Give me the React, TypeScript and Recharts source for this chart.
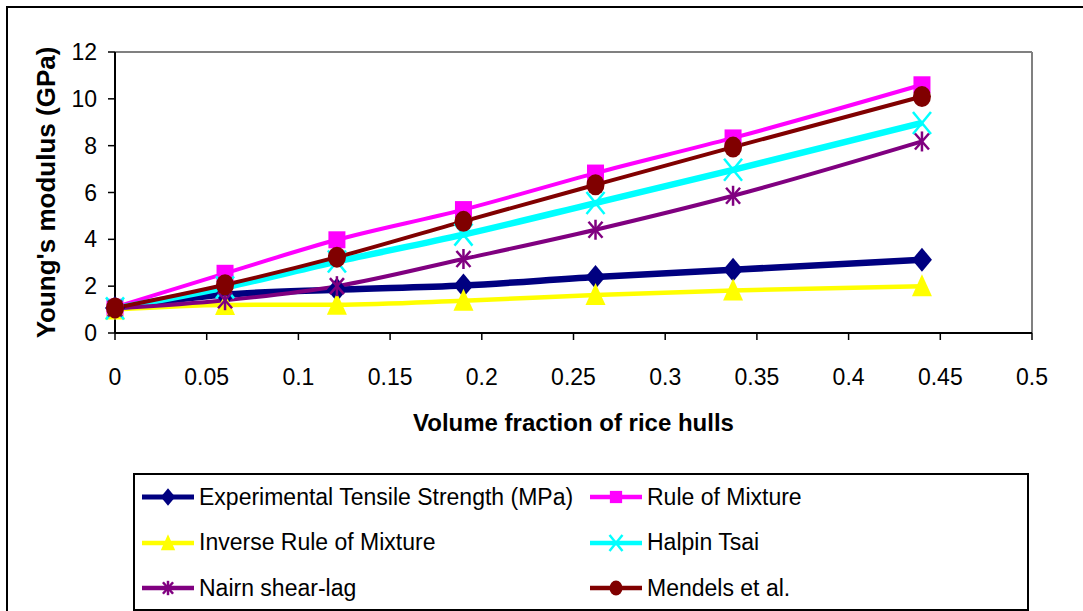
import React from 'react';
import { LineChart, Line, XAxis, YAxis, Legend, ReferenceLine } from 'recharts';

// volume fraction of rice hulls
const volumeFractions = [0, 0.06, 0.121, 0.19, 0.262, 0.337, 0.44];

// Young's modulus (GPa)
const experimental = [1.07, 1.64, 1.85, 2.03, 2.39, 2.7, 3.13];
const ruleOfMixture = [1.1, 2.55, 3.98, 5.27, 6.83, 8.33, 10.6];
const inverseRule = [1.0, 1.2, 1.21, 1.38, 1.62, 1.82, 2.0];
const halpinTsai = [1.05, 1.95, 3.05, 4.2, 5.55, 6.97, 8.97];
const nairnShearLag = [1.05, 1.4, 2.0, 3.16, 4.41, 5.86, 8.18];
const mendels = [1.07, 2.06, 3.24, 4.77, 6.33, 7.94, 10.1];

const xTicks = [0, 0.05, 0.1, 0.15, 0.2, 0.25, 0.3, 0.35, 0.4, 0.45, 0.5];
const yTicks = [0, 2, 4, 6, 8, 10, 12];

const data = volumeFractions.map((x, i) => ({
  x,
  experimental: experimental[i],
  rule: ruleOfMixture[i],
  inverse: inverseRule[i],
  halpin: halpinTsai[i],
  nairn: nairnShearLag[i],
  mendels: mendels[i],
}));

const FONT = '"Liberation Sans", Arial, sans-serif';

type MarkProps = { cx: number; cy: number; s?: number };

const Diamond = ({ cx, cy, s = 1 }: MarkProps) => (
  <polygon
    points={`${cx},${cy - 12 * s} ${cx + 10 * s},${cy} ${cx},${cy + 12 * s} ${cx - 10 * s},${cy}`}
    fill="#000080"
  />
);
const Square = ({ cx, cy, s = 1 }: MarkProps) => (
  <rect x={cx - 8.5 * s} y={cy - 8.5 * s} width={17 * s} height={17 * s} fill="#FF00FF" />
);
const Triangle = ({ cx, cy, s = 1 }: MarkProps) => (
  <polygon
    points={`${cx},${cy - 12 * s} ${cx + 10 * s},${cy + 10 * s} ${cx - 10 * s},${cy + 10 * s}`}
    fill="#FFFF00"
  />
);
const Cross = ({ cx, cy, s = 1 }: MarkProps) => (
  <g stroke="#00FFFF" strokeWidth={2.5}>
    <line x1={cx - 9 * s} y1={cy - 11 * s} x2={cx + 9 * s} y2={cy + 11 * s} />
    <line x1={cx - 9 * s} y1={cy + 11 * s} x2={cx + 9 * s} y2={cy - 11 * s} />
  </g>
);
const Asterisk = ({ cx, cy, s = 1 }: MarkProps) => (
  <g stroke="#800080" strokeWidth={2.5}>
    <line x1={cx - 7 * s} y1={cy - 8 * s} x2={cx + 7 * s} y2={cy + 8 * s} />
    <line x1={cx - 7 * s} y1={cy + 8 * s} x2={cx + 7 * s} y2={cy - 8 * s} />
    <line x1={cx} y1={cy - 10 * s} x2={cx} y2={cy + 10 * s} />
  </g>
);
const Circle = ({ cx, cy, s = 1 }: MarkProps) => (
  <ellipse cx={cx} cy={cy} rx={9 * s} ry={10.5 * s} fill="#800000" />
);

const series = [
  { key: 'experimental', name: 'Experimental Tensile Strength (MPa)', color: '#000080', width: 6.5, Mark: Diamond },
  { key: 'rule', name: 'Rule of Mixture', color: '#FF00FF', width: 4, Mark: Square },
  { key: 'inverse', name: 'Inverse Rule of Mixture', color: '#FFFF00', width: 4.5, Mark: Triangle },
  { key: 'halpin', name: 'Halpin Tsai', color: '#00FFFF', width: 6.5, Mark: Cross },
  { key: 'nairn', name: 'Nairn shear-lag', color: '#800080', width: 4, Mark: Asterisk },
  { key: 'mendels', name: 'Mendels et al.', color: '#800000', width: 4, Mark: Circle },
];

const LegendBox = () => (
  <div
    style={{
      boxSizing: 'border-box',
      width: 896,
      height: 138,
      border: '2px solid #000',
      background: '#fff',
      position: 'relative',
      fontFamily: FONT,
      fontSize: 23,
      color: '#000',
    }}
  >
    {series.map((s, i) => {
      const col = i % 2;
      const row = Math.floor(i / 2);
      return (
        <div
          key={s.key}
          style={{
            position: 'absolute',
            left: col === 0 ? 7 : 455,
            top: 7 + row * 45.5,
            height: 30,
            display: 'flex',
            alignItems: 'center',
            whiteSpace: 'nowrap',
          }}
        >
          <svg width={52} height={26} style={{ marginRight: 5 }}>
            <line x1={0} y1={13} x2={52} y2={13} stroke={s.color} strokeWidth={s.key === 'experimental' ? 5 : 4.5} />
            <s.Mark cx={26} cy={13} s={0.72} />
          </svg>
          <span>{s.name}</span>
        </div>
      );
    })}
  </div>
);

export default function App() {
  return (
    <div
      style={{
        position: 'absolute',
        left: 0,
        top: 0,
        width: 1083,
        height: 611,
        overflow: 'hidden',
        background: '#fff',
      }}
    >
      <div
        style={{
          position: 'absolute',
          left: 6,
          top: 6,
          width: 1200,
          height: 800,
          border: '2px solid #000',
        }}
      />
      <LineChart
        width={1083}
        height={611}
        data={data}
        margin={{ top: 52, right: 51, left: 55, bottom: 200 }}
      >
        <ReferenceLine y={12} stroke="#808080" strokeWidth={2} />
        <ReferenceLine x={0.5} stroke="#808080" strokeWidth={2} />
        <XAxis
          type="number"
          dataKey="x"
          domain={[0, 0.5]}
          ticks={xTicks}
          height={78}
          tickSize={7}
          tickMargin={29}
          axisLine={{ stroke: '#000', strokeWidth: 2 }}
          tickLine={{ stroke: '#000', strokeWidth: 1.5 }}
          tick={{ fill: '#000', fontSize: 23, fontFamily: FONT }}
          label={{
            content: ({ viewBox }: any) => (
              <text
                x={viewBox.x + viewBox.width / 2}
                y={viewBox.y + 98}
                textAnchor="middle"
                fontFamily={FONT}
                fontSize={24}
                fontWeight="bold"
                fill="#000"
              >
                Volume fraction of rice hulls
              </text>
            ),
          }}
        />
        <YAxis
          type="number"
          domain={[0, 12]}
          ticks={yTicks}
          width={60}
          tickSize={7}
          tickMargin={11}
          axisLine={{ stroke: '#000', strokeWidth: 2 }}
          tickLine={{ stroke: '#000', strokeWidth: 1.5 }}
          tick={{ fill: '#000', fontSize: 23, fontFamily: FONT }}
          label={{
            content: ({ viewBox }: any) => {
              const cx = 55;
              const cy = viewBox.y + viewBox.height / 2;
              return (
                <text
                  x={cx}
                  y={cy}
                  transform={`rotate(-90, ${cx}, ${cy})`}
                  textAnchor="middle"
                  fontFamily={FONT}
                  fontSize={26}
                  fontWeight="bold"
                  fill="#000"
                >
                  Young's modulus (GPa)
                </text>
              );
            },
          }}
        />
        {series.map((s) => (
          <Line
            key={s.key}
            type="monotone"
            dataKey={s.key}
            name={s.name}
            stroke={s.color}
            strokeWidth={s.width}
            isAnimationActive={false}
            dot={(p: any) => <s.Mark key={`${s.key}-${p.index}`} cx={p.cx} cy={p.cy} />}
            activeDot={false}
          />
        ))}
        <Legend
          layout="vertical"
          align="center"
          verticalAlign="middle"
          content={() => <LegendBox />}
          wrapperStyle={{ position: 'absolute', left: 133, top: 473, width: 896, height: 138 }}
        />
      </LineChart>
    </div>
  );
}
